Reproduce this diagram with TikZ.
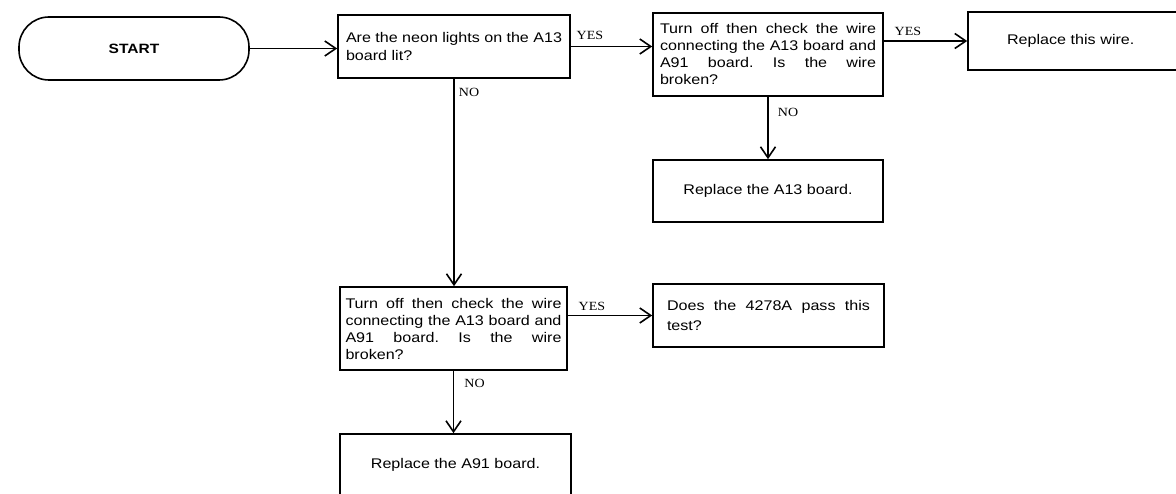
\documentclass[tikz,border=0pt]{standalone}
\usepackage{fontspec}
\setmainfont{Liberation Sans}
\newfontfamily\boxfont[FakeStretch=1.15]{Liberation Sans}
\newfontfamily\labfont[FakeStretch=1.12]{Liberation Serif}
\usetikzlibrary{arrows.meta,calc}
\hyphenpenalty=10000
\exhyphenpenalty=10000
\frenchspacing
\begin{document}
\begin{tikzpicture}[x=1pt,y=-1pt,
  boxbase/.style={draw, line width=1.6pt, font=\boxfont\fontsize{14}{17}\selectfont, inner ysep=0pt},
  qbox/.style={boxbase, align=justify},
  abox/.style={boxbase, align=center},
  termbox/.style={boxbase, rounded corners=30pt, font=\boxfont\bfseries\fontsize{13.5}{15}\selectfont},
  arr/.style={line width=1.8pt, -{Straight Barb[length=11pt,width=15pt,line width=1.6pt]}},
  lab/.style={font=\labfont\fontsize{12.5}{14}\selectfont, inner sep=1pt},
]
\fill[white] (0,0) rectangle (1176,494);
\useasboundingbox (0,0) rectangle (1176,494);
\clip (0,0) rectangle (1176,494);

\node[termbox, minimum width=230pt, minimum height=63pt] (start) at (134,48.5) {START};
\node[qbox, text width=216pt, inner xsep=8pt, minimum height=63pt,
      font=\boxfont\fontsize{14}{18}\selectfont] (q1) at (454,46.5)
  {Are the neon lights on the A13\linebreak board lit?};
\node[qbox, text width=216pt, inner xsep=7pt, minimum height=83pt] (q2) at (768,54.5)
  {Turn off then check the wire\linebreak connecting the A13 board and\linebreak A91 board. Is the wire\linebreak broken?};
\node[boxbase, text width=154pt, inner xsep=39pt, align=left, minimum height=58pt] (wire) at (1084,41)
  {Replace this wire.};
\node[abox, minimum width=230pt, minimum height=62pt] (a13) at (768,191)
  {Replace the A13 board.};
\node[qbox, text width=216pt, inner xsep=5.5pt, minimum height=83pt] (q3) at (453.5,328.5)
  {Turn off then check the wire\linebreak connecting the A13 board and\linebreak A91 board. Is the wire\linebreak broken?};
\node[qbox, text width=203pt, inner xsep=14pt, minimum height=63pt,
      font=\boxfont\fontsize{14}{20}\selectfont] (q4) at (768.5,315.5)
  {Does the 4278A pass this\linebreak test?};
\node[abox, minimum width=231pt, minimum height=62pt] (a91) at (455.5,465)
  {Replace the A91 board.};

\draw[arr] (start.east) -- (start.east -| q1.west);
\draw[arr] (q1.east) -- node[lab, pos=0, anchor=south west, xshift=4pt, yshift=5pt]{YES} (q1.east -| q2.west);
\draw[arr] (wire.west -| q2.east) -- node[lab, pos=0, anchor=south west, xshift=9pt, yshift=3pt]{YES} (wire.west);
\draw[arr] (q2.south) -- node[lab, pos=0, anchor=north west, xshift=8pt, yshift=-9.5pt]{NO} (q2.south |- a13.north);
\draw[arr] (q1.south) -- node[lab, pos=0, anchor=north west, xshift=3pt, yshift=-7.5pt]{NO} (q1.south |- q3.north);
\draw[arr] (q4.west -| q3.east) -- node[lab, pos=0, anchor=south west, xshift=9pt, yshift=3pt]{YES} (q4.west);
\draw[arr] (q3.south) -- node[lab, pos=0, anchor=north west, xshift=9pt, yshift=-6.5pt]{NO} (q3.south |- a91.north);
\end{tikzpicture}
\end{document}
